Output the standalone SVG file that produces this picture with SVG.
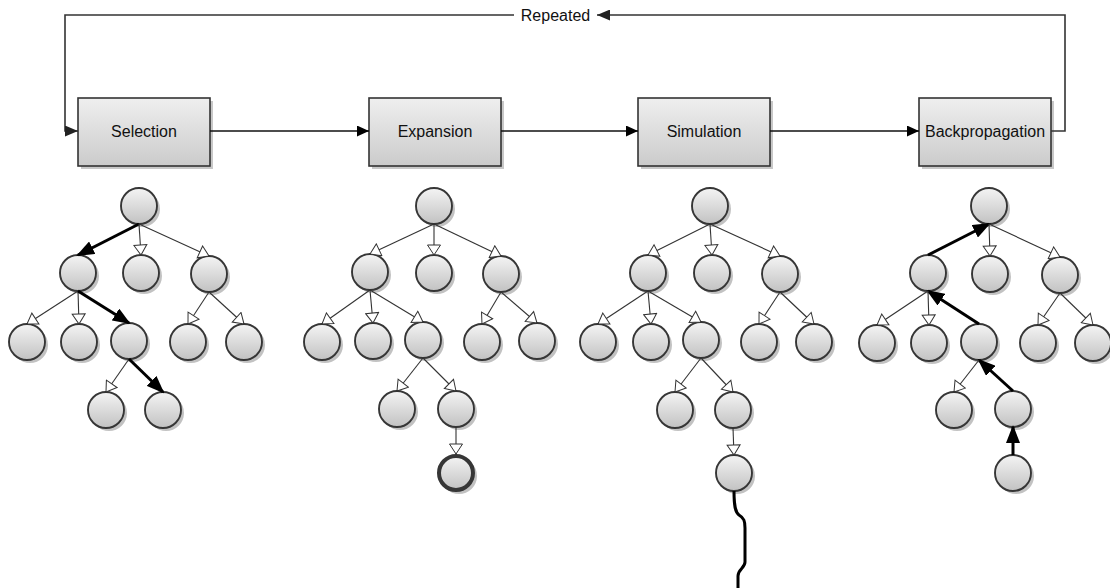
<svg xmlns="http://www.w3.org/2000/svg" width="1110" height="588" viewBox="0 0 1110 588">
  <defs>
    <linearGradient id="boxFill" x1="0" y1="0" x2="0" y2="1">
      <stop offset="0" stop-color="#efefef"/>
      <stop offset="1" stop-color="#cbcbcb"/>
    </linearGradient>
    <linearGradient id="nodeFill" x1="0" y1="0" x2="0" y2="1">
      <stop offset="0" stop-color="#f4f4f4"/>
      <stop offset="1" stop-color="#c2c2c2"/>
    </linearGradient>
    <!-- hollow triangle for ordinary tree edges -->
    <marker id="arrowOpen" viewBox="-1 -1 12 15" refX="10" refY="6.5" markerWidth="12" markerHeight="15" markerUnits="userSpaceOnUse" orient="auto">
      <path d="M0,0 L10,6.5 L0,13 Z" fill="#fff" stroke="#333" stroke-width="1"/>
    </marker>
    <!-- solid triangle for the highlighted path -->
    <marker id="arrowBold" viewBox="0 0 18 14" refX="16" refY="7" markerWidth="18" markerHeight="14" markerUnits="userSpaceOnUse" orient="auto">
      <path d="M0,0 L18,7 L0,14 Z" fill="#000"/>
    </marker>
    <!-- solid triangle for the phase flow -->
    <marker id="arrowFlow" viewBox="0 0 12 11" refX="12" refY="5.5" markerWidth="12" markerHeight="11" markerUnits="userSpaceOnUse" orient="auto">
      <path d="M0,0 L12,5.5 L0,11 Z" fill="#000"/>
    </marker>
    <marker id="arrowLoop" viewBox="0 0 13 11" refX="13" refY="5.5" markerWidth="13" markerHeight="11" markerUnits="userSpaceOnUse" orient="auto">
      <path d="M0,0 L13,5.5 L0,11 Z" fill="#222"/>
    </marker>
  </defs>
  <style>
    .box{fill:url(#boxFill);stroke:#333;stroke-width:1.6}
    .bsh{fill:#9a9a9a;opacity:.55}
    .sh{fill:#9a9a9a;opacity:.6}
    .node{fill:url(#nodeFill);stroke:#363636;stroke-width:1.9}
    .leaf{stroke-width:4}
    .label{font-family:"Liberation Sans",Arial,Helvetica,sans-serif;font-size:16px;fill:#111;text-anchor:middle}
    .flow{fill:none;stroke:#111;stroke-width:1.6;marker-end:url(#arrowFlow)}
    .loop{fill:none;stroke:#333;stroke-width:1.6}
    .edge{fill:none;stroke:#333;stroke-width:1.1;marker-end:url(#arrowOpen)}
    .hot{fill:none;stroke:#000;stroke-width:3;marker-end:url(#arrowBold)}
    .rollout{fill:none;stroke:#000;stroke-width:3}
  </style>

  <rect width="1110" height="588" fill="#fff"/>

  <!-- phase boxes -->
  <g id="phase-selection">
    <rect class="bsh" x="81" y="101" width="132" height="68"/>
    <rect class="box" x="78" y="98" width="132" height="68"/>
    <text class="label" x="144" y="137">Selection</text>
  </g>
  <g id="phase-expansion">
    <rect class="bsh" x="372" y="101" width="132" height="68"/>
    <rect class="box" x="369" y="98" width="132" height="68"/>
    <text class="label" x="435" y="137">Expansion</text>
  </g>
  <g id="phase-simulation">
    <rect class="bsh" x="641" y="101" width="132" height="68"/>
    <rect class="box" x="638" y="98" width="132" height="68"/>
    <text class="label" x="704" y="137">Simulation</text>
  </g>
  <g id="phase-backpropagation">
    <rect class="bsh" x="922" y="101" width="132" height="68"/>
    <rect class="box" x="919" y="98" width="132" height="68"/>
    <text class="label" x="985" y="137">Backpropagation</text>
  </g>

  <!-- selection tree -->
  <g id="sel-n0"><circle class="sh" cx="142" cy="209" r="18"/><circle class="node" cx="139" cy="206" r="18"/></g>
  <g id="sel-n1"><circle class="sh" cx="81" cy="276" r="18"/><circle class="node" cx="78" cy="273" r="18"/></g>
  <g id="sel-n2"><circle class="sh" cx="144" cy="276" r="18"/><circle class="node" cx="141" cy="273" r="18"/></g>
  <g id="sel-n3"><circle class="sh" cx="212" cy="277" r="18"/><circle class="node" cx="209" cy="274" r="18"/></g>
  <g id="sel-n4"><circle class="sh" cx="30" cy="345" r="18"/><circle class="node" cx="27" cy="342" r="18"/></g>
  <g id="sel-n5"><circle class="sh" cx="82" cy="345" r="18"/><circle class="node" cx="79" cy="342" r="18"/></g>
  <g id="sel-n6"><circle class="sh" cx="132" cy="344" r="18"/><circle class="node" cx="129" cy="341" r="18"/></g>
  <g id="sel-n7"><circle class="sh" cx="191" cy="345" r="18"/><circle class="node" cx="188" cy="342" r="18"/></g>
  <g id="sel-n8"><circle class="sh" cx="247" cy="345" r="18"/><circle class="node" cx="244" cy="342" r="18"/></g>
  <g id="sel-n9"><circle class="sh" cx="109" cy="413" r="18"/><circle class="node" cx="106" cy="410" r="18"/></g>
  <g id="sel-n10"><circle class="sh" cx="166" cy="413" r="18"/><circle class="node" cx="163" cy="410" r="18"/></g>

  <!-- expansion tree -->
  <g id="exp-n0"><circle class="sh" cx="437" cy="209" r="18"/><circle class="node" cx="434" cy="206" r="18"/></g>
  <g id="exp-n1"><circle class="sh" cx="373" cy="275" r="18"/><circle class="node" cx="370" cy="272" r="18"/></g>
  <g id="exp-n2"><circle class="sh" cx="437" cy="276" r="18"/><circle class="node" cx="434" cy="273" r="18"/></g>
  <g id="exp-n3"><circle class="sh" cx="504" cy="277" r="18"/><circle class="node" cx="501" cy="274" r="18"/></g>
  <g id="exp-n4"><circle class="sh" cx="325" cy="345" r="18"/><circle class="node" cx="322" cy="342" r="18"/></g>
  <g id="exp-n5"><circle class="sh" cx="376" cy="344" r="18"/><circle class="node" cx="373" cy="341" r="18"/></g>
  <g id="exp-n6"><circle class="sh" cx="426" cy="343" r="18"/><circle class="node" cx="423" cy="340" r="18"/></g>
  <g id="exp-n7"><circle class="sh" cx="485" cy="345" r="18"/><circle class="node" cx="482" cy="342" r="18"/></g>
  <g id="exp-n8"><circle class="sh" cx="540" cy="344" r="18"/><circle class="node" cx="537" cy="341" r="18"/></g>
  <g id="exp-n9"><circle class="sh" cx="400" cy="412" r="18"/><circle class="node" cx="397" cy="409" r="18"/></g>
  <g id="exp-n10"><circle class="sh" cx="459" cy="412" r="18"/><circle class="node" cx="456" cy="409" r="18"/></g>
  <g id="exp-n11"><circle class="sh" cx="459" cy="476" r="18"/><circle class="node leaf" cx="456" cy="473" r="17"/></g>

  <!-- simulation tree -->
  <g id="sim-n0"><circle class="sh" cx="713" cy="209" r="18"/><circle class="node" cx="710" cy="206" r="18"/></g>
  <g id="sim-n1"><circle class="sh" cx="651" cy="276" r="18"/><circle class="node" cx="648" cy="273" r="18"/></g>
  <g id="sim-n2"><circle class="sh" cx="715" cy="276" r="18"/><circle class="node" cx="712" cy="273" r="18"/></g>
  <g id="sim-n3"><circle class="sh" cx="783" cy="277" r="18"/><circle class="node" cx="780" cy="274" r="18"/></g>
  <g id="sim-n4"><circle class="sh" cx="601" cy="345" r="18"/><circle class="node" cx="598" cy="342" r="18"/></g>
  <g id="sim-n5"><circle class="sh" cx="654" cy="345" r="18"/><circle class="node" cx="651" cy="342" r="18"/></g>
  <g id="sim-n6"><circle class="sh" cx="704" cy="343" r="18"/><circle class="node" cx="701" cy="340" r="18"/></g>
  <g id="sim-n7"><circle class="sh" cx="762" cy="345" r="18"/><circle class="node" cx="759" cy="342" r="18"/></g>
  <g id="sim-n8"><circle class="sh" cx="817" cy="345" r="18"/><circle class="node" cx="814" cy="342" r="18"/></g>
  <g id="sim-n9"><circle class="sh" cx="678" cy="413" r="18"/><circle class="node" cx="675" cy="410" r="18"/></g>
  <g id="sim-n10"><circle class="sh" cx="736" cy="413" r="18"/><circle class="node" cx="733" cy="410" r="18"/></g>
  <g id="sim-n11"><circle class="sh" cx="737" cy="476" r="18"/><circle class="node" cx="734" cy="473" r="18"/></g>

  <!-- backpropagation tree -->
  <g id="bp-n0"><circle class="sh" cx="992" cy="209" r="18"/><circle class="node" cx="989" cy="206" r="18"/></g>
  <g id="bp-n1"><circle class="sh" cx="931" cy="276" r="18"/><circle class="node" cx="928" cy="273" r="18"/></g>
  <g id="bp-n2"><circle class="sh" cx="993" cy="277" r="18"/><circle class="node" cx="990" cy="274" r="18"/></g>
  <g id="bp-n3"><circle class="sh" cx="1063" cy="278" r="18"/><circle class="node" cx="1060" cy="275" r="18"/></g>
  <g id="bp-n4"><circle class="sh" cx="880" cy="346" r="18"/><circle class="node" cx="877" cy="343" r="18"/></g>
  <g id="bp-n5"><circle class="sh" cx="932" cy="346" r="18"/><circle class="node" cx="929" cy="343" r="18"/></g>
  <g id="bp-n6"><circle class="sh" cx="982" cy="345" r="18"/><circle class="node" cx="979" cy="342" r="18"/></g>
  <g id="bp-n7"><circle class="sh" cx="1041" cy="346" r="18"/><circle class="node" cx="1038" cy="343" r="18"/></g>
  <g id="bp-n8"><circle class="sh" cx="1096" cy="346" r="18"/><circle class="node" cx="1093" cy="343" r="18"/></g>
  <g id="bp-n9"><circle class="sh" cx="957" cy="413" r="18"/><circle class="node" cx="954" cy="410" r="18"/></g>
  <g id="bp-n10"><circle class="sh" cx="1016" cy="412" r="18"/><circle class="node" cx="1013" cy="409" r="18"/></g>
  <g id="bp-n11"><circle class="sh" cx="1016" cy="476" r="18"/><circle class="node" cx="1013" cy="473" r="18"/></g>

  <!-- connectors -->
  <g id="connectors">
    <!-- phase flow and repeat loop -->
    <path class="flow" d="M210,131 H369"/>
    <path class="flow" d="M501,131 H638"/>
    <path class="flow" d="M770,131 H919"/>
    <path class="loop" d="M1051,131 H1065 V15 H597" marker-end="url(#arrowLoop)"/>
    <path class="loop" d="M514,15 H65 V131 H78" marker-end="url(#arrowLoop)"/>
    <text class="label" x="555.5" y="21">Repeated</text>

    <!-- selection tree edges -->
    <path class="hot" d="M139,224 L78,255"/>
    <path class="edge" d="M139,224 L141,255"/>
    <path class="edge" d="M139,224 L209,256"/>
    <path class="edge" d="M78,291 L27,324"/>
    <path class="edge" d="M78,291 L79,324"/>
    <path class="hot" d="M78,291 L129,323"/>
    <path class="edge" d="M209,292 L188,324"/>
    <path class="edge" d="M209,292 L244,324"/>
    <path class="edge" d="M129,359 L106,392"/>
    <path class="hot" d="M129,359 L163,392"/>

    <!-- expansion tree edges -->
    <path class="edge" d="M434,224 L370,254"/>
    <path class="edge" d="M434,224 L434,255"/>
    <path class="edge" d="M434,224 L501,256"/>
    <path class="edge" d="M370,290 L322,324"/>
    <path class="edge" d="M370,290 L373,323"/>
    <path class="edge" d="M370,290 L423,322"/>
    <path class="edge" d="M501,292 L482,324"/>
    <path class="edge" d="M501,292 L537,323"/>
    <path class="edge" d="M423,358 L397,391"/>
    <path class="edge" d="M423,358 L456,391"/>
    <path class="edge" d="M456,427 L456,454"/>

    <!-- simulation tree edges -->
    <path class="edge" d="M710,224 L648,255"/>
    <path class="edge" d="M710,224 L712,255"/>
    <path class="edge" d="M710,224 L780,256"/>
    <path class="edge" d="M648,291 L598,324"/>
    <path class="edge" d="M648,291 L651,324"/>
    <path class="edge" d="M648,291 L701,322"/>
    <path class="edge" d="M780,292 L759,324"/>
    <path class="edge" d="M780,292 L814,324"/>
    <path class="edge" d="M701,358 L675,392"/>
    <path class="edge" d="M701,358 L733,392"/>
    <path class="edge" d="M733,428 L734,455"/>
    <path class="rollout" d="M734,491 C734,505 735,512 739,515 C744,518 745,521 745,528 L745,562 C745,568 738,569 738,576 L738,590"/>

    <!-- backpropagation tree edges -->
    <path class="hot" d="M928,255 L989,224"/>
    <path class="edge" d="M989,224 L990,256"/>
    <path class="edge" d="M989,224 L1060,257"/>
    <path class="hot" d="M979,324 L928,291"/>
    <path class="edge" d="M928,291 L877,325"/>
    <path class="edge" d="M928,291 L929,325"/>
    <path class="edge" d="M1060,293 L1038,325"/>
    <path class="edge" d="M1060,293 L1093,325"/>
    <path class="hot" d="M1013,391 L979,360"/>
    <path class="edge" d="M979,360 L954,392"/>
    <path class="hot" d="M1013,455 L1013,427"/>
  </g>
</svg>
